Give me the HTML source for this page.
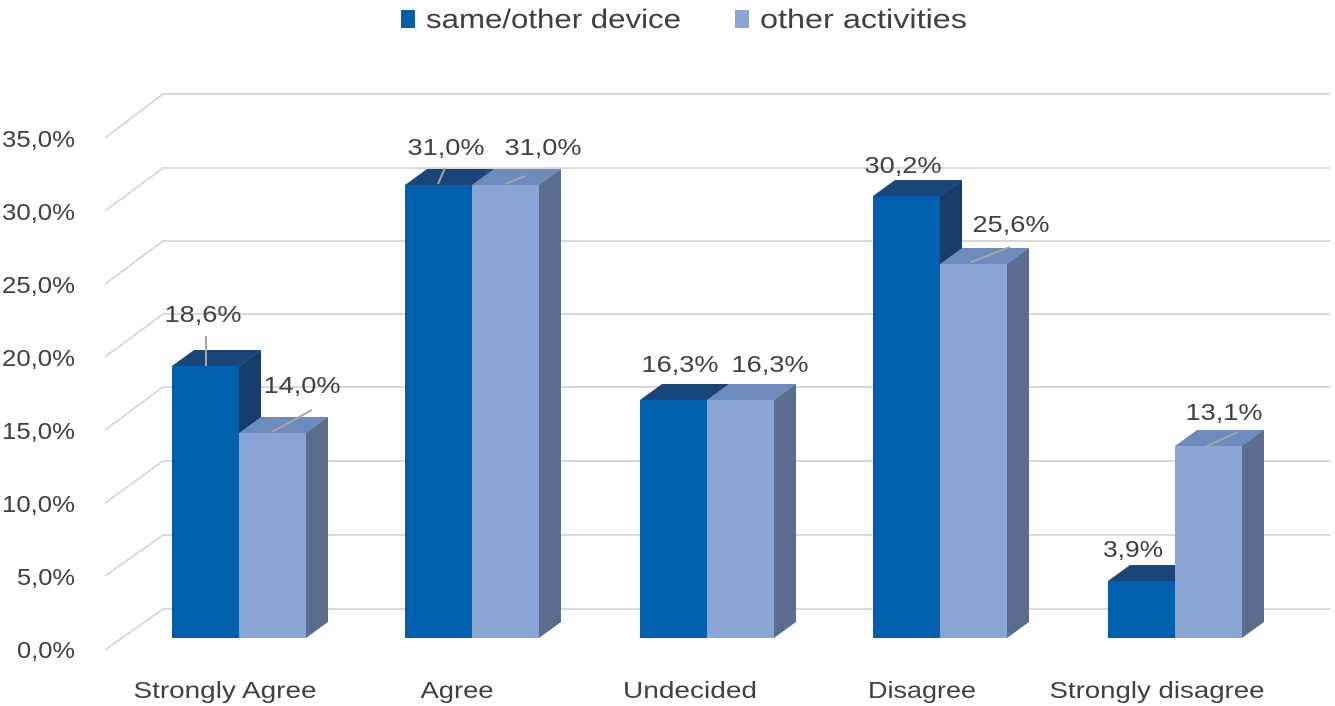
<!DOCTYPE html>
<html><head><meta charset="utf-8"><style>
html,body{margin:0;padding:0;background:#fff;}
svg{display:block;font-family:"Liberation Sans",sans-serif;}
</style></head><body>
<svg width="1335" height="706" viewBox="0 0 1335 706" xmlns="http://www.w3.org/2000/svg">
<g stroke="#d9d9d9" stroke-width="2" fill="none">
<path d="M105 138 L163 94 H1330"/>
<path d="M105 211 L163 168 H1330"/>
<path d="M105 284 L163 241 H1330"/>
<path d="M105 357 L163 314 H1330"/>
<path d="M105 430 L163 387 H1330"/>
<path d="M105 503 L163 461 H1330"/>
<path d="M105 576 L163 535 H1330"/>
<path d="M105 650 L163 609 H1330"/>
</g>
<g fill="#404040" font-size="23" text-anchor="end" lengthAdjust="spacingAndGlyphs">
<text x="75" y="147" textLength="73" lengthAdjust="spacingAndGlyphs">35,0%</text>
<text x="75" y="220" textLength="73" lengthAdjust="spacingAndGlyphs">30,0%</text>
<text x="75" y="293" textLength="73" lengthAdjust="spacingAndGlyphs">25,0%</text>
<text x="75" y="366" textLength="73" lengthAdjust="spacingAndGlyphs">20,0%</text>
<text x="75" y="439" textLength="73" lengthAdjust="spacingAndGlyphs">15,0%</text>
<text x="75" y="512" textLength="73" lengthAdjust="spacingAndGlyphs">10,0%</text>
<text x="75" y="585" textLength="58" lengthAdjust="spacingAndGlyphs">5,0%</text>
<text x="75" y="658" textLength="58" lengthAdjust="spacingAndGlyphs">0,0%</text>
</g>
<polygon points="172,366 194,350 261,350 239,366" fill="#1b4679"/>
<polygon points="239,366 261,350 261,622 239,638" fill="#173e6b"/>
<rect x="172" y="366" width="67" height="272" fill="#0060ae"/>
<polygon points="239,433 261,417 328,417 306,433" fill="#6d8bbd"/>
<polygon points="306,433 328,417 328,622 306,638" fill="#5a6d8e"/>
<rect x="239" y="433" width="67" height="205" fill="#8aa5d3"/>
<polygon points="405,185 427,169 494,169 472,185" fill="#1b4679"/>
<polygon points="472,185 494,169 494,622 472,638" fill="#173e6b"/>
<rect x="405" y="185" width="67" height="453" fill="#0060ae"/>
<polygon points="472,185 494,169 561,169 539,185" fill="#6d8bbd"/>
<polygon points="539,185 561,169 561,622 539,638" fill="#5a6d8e"/>
<rect x="472" y="185" width="67" height="453" fill="#8aa5d3"/>
<polygon points="640,400 662,384 729,384 707,400" fill="#1b4679"/>
<polygon points="707,400 729,384 729,622 707,638" fill="#173e6b"/>
<rect x="640" y="400" width="67" height="238" fill="#0060ae"/>
<polygon points="707,400 729,384 796,384 774,400" fill="#6d8bbd"/>
<polygon points="774,400 796,384 796,622 774,638" fill="#5a6d8e"/>
<rect x="707" y="400" width="67" height="238" fill="#8aa5d3"/>
<polygon points="873,196 895,180 962,180 940,196" fill="#1b4679"/>
<polygon points="940,196 962,180 962,622 940,638" fill="#173e6b"/>
<rect x="873" y="196" width="67" height="442" fill="#0060ae"/>
<polygon points="940,264 962,248 1029,248 1007,264" fill="#6d8bbd"/>
<polygon points="1007,264 1029,248 1029,622 1007,638" fill="#5a6d8e"/>
<rect x="940" y="264" width="67" height="374" fill="#8aa5d3"/>
<polygon points="1108,581 1130,565 1197,565 1175,581" fill="#1b4679"/>
<polygon points="1175,581 1197,565 1197,622 1175,638" fill="#173e6b"/>
<rect x="1108" y="581" width="67" height="57" fill="#0060ae"/>
<polygon points="1175,446 1197,430 1264,430 1242,446" fill="#6d8bbd"/>
<polygon points="1242,446 1264,430 1264,622 1242,638" fill="#5a6d8e"/>
<rect x="1175" y="446" width="67" height="192" fill="#8aa5d3"/>
<g stroke="#a6a6a6" stroke-width="2">
<line x1="206" y1="336" x2="206" y2="366"/>
<line x1="272" y1="432" x2="312" y2="410"/>
<line x1="438" y1="184" x2="445" y2="168"/>
<line x1="505" y1="184" x2="525" y2="176"/>
<line x1="971" y1="262" x2="1010" y2="247"/>
<line x1="1205" y1="447" x2="1238" y2="432"/>
</g>
<g fill="#404040" font-size="23" text-anchor="middle">
<text x="203" y="322" textLength="77" lengthAdjust="spacingAndGlyphs">18,6%</text>
<text x="302" y="393" textLength="77" lengthAdjust="spacingAndGlyphs">14,0%</text>
<text x="446" y="155" textLength="77" lengthAdjust="spacingAndGlyphs">31,0%</text>
<text x="543" y="155" textLength="77" lengthAdjust="spacingAndGlyphs">31,0%</text>
<text x="680" y="372" textLength="77" lengthAdjust="spacingAndGlyphs">16,3%</text>
<text x="770" y="372" textLength="77" lengthAdjust="spacingAndGlyphs">16,3%</text>
<text x="903" y="173" textLength="77" lengthAdjust="spacingAndGlyphs">30,2%</text>
<text x="1011" y="232" textLength="77" lengthAdjust="spacingAndGlyphs">25,6%</text>
<text x="1133" y="557" textLength="60" lengthAdjust="spacingAndGlyphs">3,9%</text>
<text x="1224" y="420" textLength="77" lengthAdjust="spacingAndGlyphs">13,1%</text>
</g>
<g fill="#404040" font-size="23" text-anchor="middle">
<text x="225" y="698" textLength="183" lengthAdjust="spacingAndGlyphs">Strongly Agree</text>
<text x="457" y="698" textLength="73" lengthAdjust="spacingAndGlyphs">Agree</text>
<text x="690" y="698" textLength="134" lengthAdjust="spacingAndGlyphs">Undecided</text>
<text x="922" y="698" textLength="108" lengthAdjust="spacingAndGlyphs">Disagree</text>
<text x="1157" y="698" textLength="215" lengthAdjust="spacingAndGlyphs">Strongly disagree</text>
</g>
<rect x="401" y="10" width="14" height="18" fill="#0060ae"/>
<text x="426" y="28" font-size="27" fill="#404040" textLength="255" lengthAdjust="spacingAndGlyphs">same/other device</text>
<rect x="735" y="10" width="14" height="18" fill="#8aa5d3"/>
<text x="760" y="28" font-size="27" fill="#404040" textLength="207" lengthAdjust="spacingAndGlyphs">other activities</text>
</svg>
</body></html>
